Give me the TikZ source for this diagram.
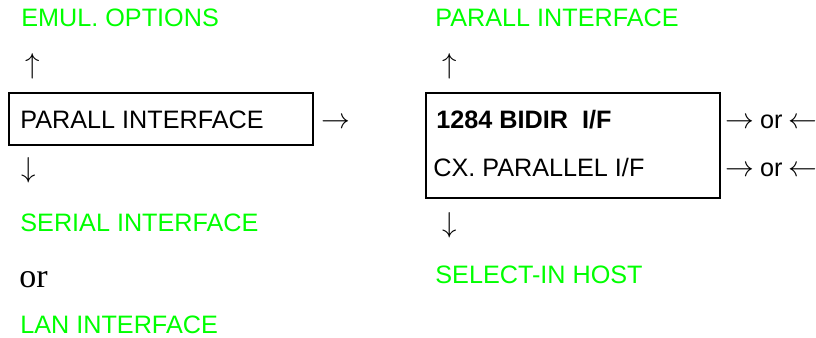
\documentclass[tikz,border=0pt]{standalone}
\usepackage{graphicx}
\usepackage{fontspec}
\setmainfont{Liberation Sans}
\newfontfamily\orfont{Liberation Serif}
\definecolor{menugreen}{RGB}{0,255,0}
\newcommand{\menuarr}[1]{\scalebox{1.2}{$#1$}}

\begin{document}
\begin{tikzpicture}[x=0.5pt, y=-0.5pt, main/.style={anchor=base west, inner sep=0pt, font=\fontsize{12.6}{15}\selectfont}, menu/.style={main, text=menugreen}, box/.style={draw, line width=1pt, anchor=north west, inner sep=0pt}]

        \useasboundingbox (0,0) rectangle (816,338);

        % left column
        \node[menu] (emul) at (21,26) {EMUL. OPTIONS};
        \node[main] (lup) at (25,73) {\menuarr{\uparrow}};
        \node[box, minimum width=152pt, minimum height=26pt] (lbox) at (8,92) {};
        \node[main] (lpar) at (20,128) {PARALL INTERFACE};
        \node[main] (ldown) at (21,177) {\menuarr{\downarrow}};
        \node[menu] (serial) at (20,231) {SERIAL INTERFACE};
        \node[main, font=\orfont\fontsize{17}{20}\selectfont] (or) at (19,287) {or};
        \node[menu] (lan) at (20,333) {LAN INTERFACE};

        \node[main] (next) at (321,128) {\menuarr{\rightarrow}};

        % right column
        \node[menu] (rpar) at (435,26) {PARALL INTERFACE};
        \node[main] (rup) at (442,73) {\menuarr{\uparrow}};
        \node[box, minimum width=147pt, minimum height=52.5pt] (rbox) at (425,92) {};
        \node[main, font=\bfseries\fontsize{12.6}{15}\selectfont] (bidir) at (436,128) {1284 BIDIR\ \ I/F};
        \node[main] (cx) at (433,176) {CX. PARALLEL I/F};
        \node[main] (rdown) at (442,232) {\menuarr{\downarrow}};
        \node[menu] (host) at (435,283) {SELECT-IN HOST};

        \node[main] (sel1) at (725,128) {\menuarr{\rightarrow}\hspace{3pt}or\hspace{3pt}\menuarr{\leftarrow}};
        \node[main] (sel2) at (725,176) {\menuarr{\rightarrow}\hspace{3pt}or\hspace{3pt}\menuarr{\leftarrow}};
        \end{tikzpicture}
\end{document}
